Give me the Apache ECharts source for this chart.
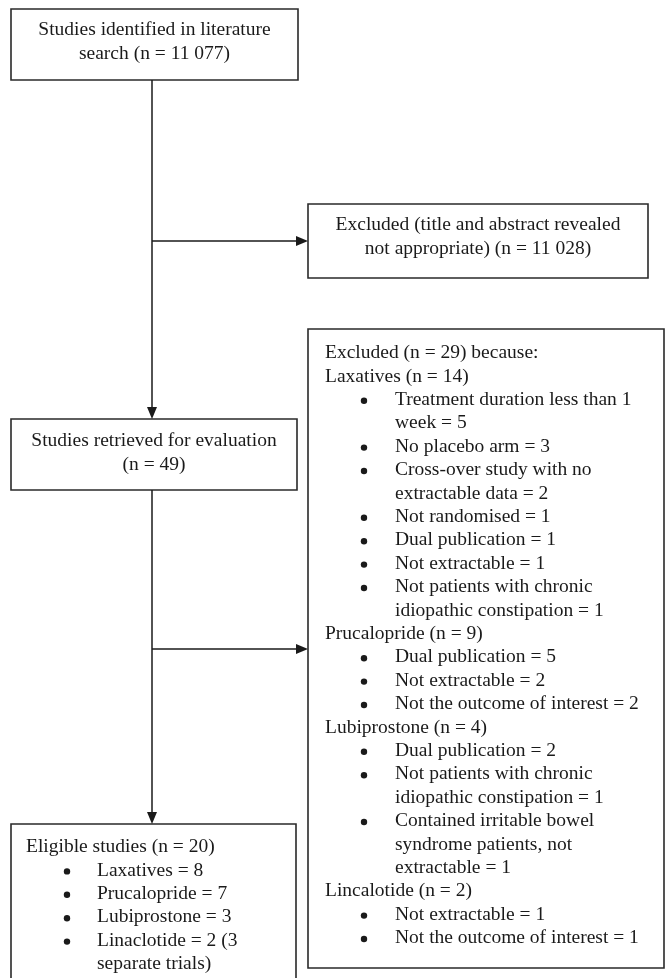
<!DOCTYPE html>
<html><head><meta charset="utf-8">
<script src="https://cdn.jsdelivr.net/npm/echarts@6/dist/echarts.min.js"></script>
<style>html,body{margin:0;padding:0;background:#fff}#c{width:665px;height:978px}</style>
</head><body><div id="c"></div>
<script>
// ---- chart content (texts and counts) ----
const identifiedLines = ['Studies identified in literature', 'search (n = 11 077)'];
const screenExcludedLines = ['Excluded (title and abstract revealed', 'not appropriate) (n = 11 028)'];
const retrievedLines = ['Studies retrieved for evaluation', '(n = 49)'];
const fullTextExcludedHeader = 'Excluded (n = 29) because:';
const exclusionGroups = ['Laxatives (n = 14)', 'Prucalopride (n = 9)', 'Lubiprostone (n = 4)', 'Lincalotide (n = 2)'];
const laxativeReasons = [['Treatment duration less than 1', 'week = 5'], ['No placebo arm = 3'], ['Cross-over study with no', 'extractable data = 2'], ['Not randomised = 1'], ['Dual publication = 1'], ['Not extractable = 1'], ['Not patients with chronic', 'idiopathic constipation = 1']];
const prucaloprideReasons = [['Dual publication = 5'], ['Not extractable = 2'], ['Not the outcome of interest = 2']];
const lubiprostoneReasons = [['Dual publication = 2'], ['Not patients with chronic', 'idiopathic constipation = 1'], ['Contained irritable bowel', 'syndrome patients, not', 'extractable = 1']];
const lincalotideReasons = [['Not extractable = 1'], ['Not the outcome of interest = 1']];
const eligibleHeader = 'Eligible studies (n = 20)';
const eligibleItems = [['Laxatives = 8'], ['Prucalopride = 7'], ['Lubiprostone = 3'], ['Linaclotide = 2 (3', 'separate trials)']];

// ---- layout (page units, mapped through hidden value axes) ----
const BOX = {
  identified: {x0: 11, y0: 9, x1: 298, y1: 80},
  screenExcl: {x0: 308, y0: 204, x1: 648, y1: 278},
  retrieved: {x0: 11, y0: 419, x1: 297, y1: 490},
  fullExcl: {x0: 308, y0: 329, x1: 664, y1: 968},
  eligible: {x0: 11, y0: 824, x1: 296, y1: 995}
};
const LH = 23.4;
const LINKS = [
  [[152, 80], [152, 419]],
  [[152, 241], [308, 241]],
  [[152, 490], [152, 824]],
  [[152, 649], [308, 649]]
];
const FONT = '19.5px "Liberation Serif", "Times New Roman", serif';
const INK = '#1a1a1a';

const rows = [];
function centered(box, lines, y0) {
  const b = BOX[box];
  lines.forEach((t, i) => rows.push({text: t, x: (b.x0 + b.x1) / 2, y: y0 + i * LH, align: 'center'}));
}
centered('identified', identifiedLines, 30);
centered('screenExcl', screenExcludedLines, 225);
centered('retrieved', retrievedLines, 441);

function listBlock(startY, hx, bx, tx, header, groups) {
  let y = startY;
  if (header) { rows.push({text: header, x: hx, y: y, align: 'left'}); y += LH; }
  groups.forEach(g => {
    if (g.title) { rows.push({text: g.title, x: hx, y: y, align: 'left'}); y += LH; }
    g.items.forEach(item => {
      item.forEach((t, k) => {
        rows.push({text: t, x: tx, y: y, align: 'left', bullet: k === 0 ? bx : null});
        y += LH;
      });
    });
  });
}
listBlock(353, 325, 364, 395, fullTextExcludedHeader, [
  {title: exclusionGroups[0], items: laxativeReasons},
  {title: exclusionGroups[1], items: prucaloprideReasons},
  {title: exclusionGroups[2], items: lubiprostoneReasons},
  {title: exclusionGroups[3], items: lincalotideReasons}
]);
listBlock(847, 26, 67, 97, eligibleHeader, [{title: null, items: eligibleItems}]);

const boxKeys = Object.keys(BOX);
const chart = echarts.init(document.getElementById('c'), null, {renderer: 'canvas'});
chart.setOption({
  animation: false,
  backgroundColor: '#ffffff',
  grid: {left: 0, right: 0, top: 0, bottom: 0},
  xAxis: {type: 'value', min: 0, max: 665, show: false},
  yAxis: {type: 'value', min: 0, max: 978, inverse: true, show: false},
  series: [
    {
      type: 'custom', coordinateSystem: 'cartesian2d', silent: true,
      data: boxKeys.map((k, i) => [i]),
      renderItem: function (params, api) {
        const b = BOX[boxKeys[params.dataIndex]];
        const p0 = api.coord([b.x0, b.y0]);
        const p1 = api.coord([b.x1, b.y1]);
        return {
          type: 'rect',
          shape: {x: p0[0], y: p0[1], width: p1[0] - p0[0], height: p1[1] - p0[1]},
          style: {fill: '#ffffff', stroke: '#2a2a2a', lineWidth: 1.6}
        };
      }
    },
    {
      type: 'custom', coordinateSystem: 'cartesian2d', silent: true,
      data: LINKS.map((l, i) => [i]),
      renderItem: function (params, api) {
        const l = LINKS[params.dataIndex];
        const a = api.coord(l[0]);
        const b = api.coord(l[1]);
        const dx = b[0] - a[0], dy = b[1] - a[1];
        const len = Math.sqrt(dx * dx + dy * dy);
        const ux = dx / len, uy = dy / len;
        const L = 12, W = 5;
        const base = [b[0] - ux * L, b[1] - uy * L];
        return {
          type: 'group',
          children: [
            {type: 'line', shape: {x1: a[0], y1: a[1], x2: base[0], y2: base[1]}, style: {stroke: INK, lineWidth: 1.5}},
            {type: 'polygon', shape: {points: [[b[0], b[1]], [base[0] - uy * W, base[1] + ux * W], [base[0] + uy * W, base[1] - ux * W]]}, style: {fill: INK}}
          ]
        };
      }
    },
    {
      type: 'custom', coordinateSystem: 'cartesian2d', silent: true,
      data: rows.map((r, i) => [r.x, r.y]),
      renderItem: function (params, api) {
        const r = rows[params.dataIndex];
        const p = api.coord([api.value(0), api.value(1)]);
        const children = [{
          type: 'text',
          style: {text: r.text, x: p[0], y: p[1], font: FONT, fill: INK, align: r.align, verticalAlign: 'middle'}
        }];
        if (r.bullet !== null && r.bullet !== undefined) {
          const bp = api.coord([r.bullet, r.y]);
          children.push({type: 'circle', shape: {cx: bp[0], cy: bp[1] + 1, r: 3.2}, style: {fill: INK}});
        }
        return {type: 'group', children: children};
      }
    }
  ]
});
</script>
</body></html>
